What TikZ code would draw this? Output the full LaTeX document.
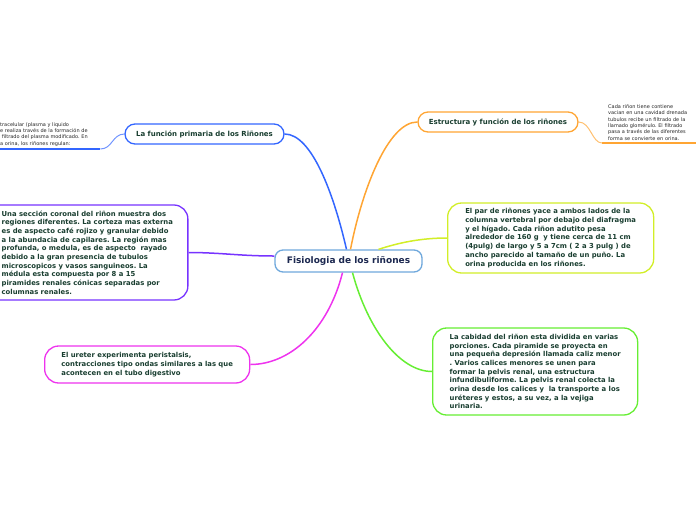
\documentclass[tikz,border=0pt]{standalone}
\usepackage{fontspec}
\setmainfont{DejaVu Sans}
\frenchspacing
\definecolor{cblue}{RGB}{51,102,255}
\definecolor{corange}{RGB}{255,165,51}
\definecolor{cyellow}{RGB}{210,238,40}
\definecolor{cgreen}{RGB}{102,238,51}
\definecolor{cmag}{RGB}{238,51,238}
\definecolor{cpurple}{RGB}{119,51,255}
\definecolor{cbord}{RGB}{111,168,220}
\definecolor{txt}{RGB}{25,62,48}
\definecolor{navy}{RGB}{28,40,80}
\begin{document}
\begin{tikzpicture}[x=1pt,y=-1pt,
  box/.style={draw, rounded corners=14, line width=1.3, fill=white,
    font=\bfseries\fontsize{6.85}{8.7}\selectfont, text=txt, align=left,
    inner xsep=15, inner ysep=0},
  titlebox/.style={draw, rounded corners=10, line width=1.3, fill=white,
    font=\bfseries\fontsize{7}{8.5}\selectfont, text=txt, minimum height=20,
    inner sep=0},
  rootbox/.style={draw=cbord, rounded corners=8, line width=1.3, fill=white,
    font=\bfseries\fontsize{9}{10}\selectfont, text=navy, minimum height=22,
    minimum width=147, inner sep=0},
  link/.style={line width=1.5},
  tinytext/.style={font=\fontsize{5}{6.4}\selectfont, align=left,
    inner xsep=0, inner ysep=2.5, text=black!85}]
\useasboundingbox (0,0) rectangle (696,520);

% nodes
\node[rootbox] (root) at (348.5,261) {Fisiologia de los riñones};
\node[titlebox, draw=cblue, minimum width=159] (t1) at (204.5,134) {La función primaria de los Riñones};
\node[titlebox, draw=corange, minimum width=160] (t2) at (498,122) {Estructura y función de los riñones};

\node[box, draw=cyellow, inner xsep=16, minimum height=70, minimum width=206, anchor=west] (yb) at (447,238) {El par de riñones yace a ambos lados de la\\
columna vertebral por debajo del diafragma\\
y el hígado. Cada riñon adutito pesa\\
alrededor de 160 g \ y tiene cerca de 11 cm\\
(4pulg) de largo y 5 a 7cm ( 2 a 3 pulg ) de\\
ancho parecido al tamaño de un puño. La\\
orina producida en los riñones.};

\node[box, draw=cgreen, minimum height=87, minimum width=205, anchor=west] (gb) at (432,371.5) {La cabidad del riñon esta dividida en varias\\
porciones. Cada piramide se proyecta en\\
una pequeña depresión llamada caliz menor\\
. Varios calices menores se unen para\\
formar la pelvis renal, una estructura\\
infundibuliforme. La pelvis renal colecta la\\
orina desde los calices y \ la transporte a los\\
uréteres y estos, a su vez, a la vejiga\\
urinaria.};

\node[box, draw=cpurple, minimum height=95, anchor=west] (pb) at (-14,252.5) {Una sección coronal del riñon muestra dos\\
regiones diferentes. La corteza mas externa\\
es de aspecto café rojizo y granular debido\\
a la abundacia de capilares. La región mas\\
profunda, o medula, es de aspecto \ rayado\\
debido a la gran presencia de tubulos\\
microscopicos y vasos sanguineos. La\\
médula esta compuesta por 8 a 15\\
piramides renales cónicas separadas por\\
columnas renales.};

\node[box, draw=cmag, minimum height=37, minimum width=205, anchor=west] (mb) at (44,364.5) {El ureter experimenta peristalsis,\\
contracciones tipo ondas similares a las que\\
acontecen en el tubo digestivo};

\node[tinytext, anchor=south west, text width=100] (lt) at (0,149) {tracelular (plasma y liquido\\
e realiza través de la formación de\\
\ filtrado del plasma modificado. En\\
a orina, los riñones regulan:};

\node[tinytext, anchor=south west, text width=100, inner xsep=6] (rt) at (602,143) {Cada riñon tiene contiene\\
vacian en una cavidad drenada\\
tubulos recibe un filtrado de la\\
llamado glomérulo. El filtrado\\
pasa a través de las diferentes\\
forma se convierte en orina.};

% connectors
\begin{scope}[link]
\draw[cblue] ([xshift=-2]root.north) .. controls (334,195) and (312,134) .. (t1.east);
\draw[corange] ([xshift=2]root.north) .. controls (362,190) and (388,122) .. (t2.west);
\draw[cyellow] ([xshift=30]root.north) .. controls (398,243) and (420,238) .. (yb.west);
\draw[cgreen] ([xshift=4]root.south) .. controls (368,330) and (400,371.5) .. (gb.west);
\draw[cmag] ([xshift=-6]root.south) .. controls (328,330) and (290,364.5) .. (mb.east);
\draw[cpurple] ([yshift=5]root.west) .. controls (240,256) and (220,252.5) .. (pb.east);
\end{scope}
\draw[cblue, line width=2] (lt.south west) -- (lt.south east);
\draw[cblue!70, line width=1] (lt.south east) .. controls +(12,0) and +(-12,0) .. (t1.west);
\draw[corange, line width=2] (rt.south west) -- (rt.south east);
\draw[corange!70, line width=1] (t2.east) .. controls +(12,0) and +(-10,0) .. (rt.south west);
\end{tikzpicture}
\end{document}
